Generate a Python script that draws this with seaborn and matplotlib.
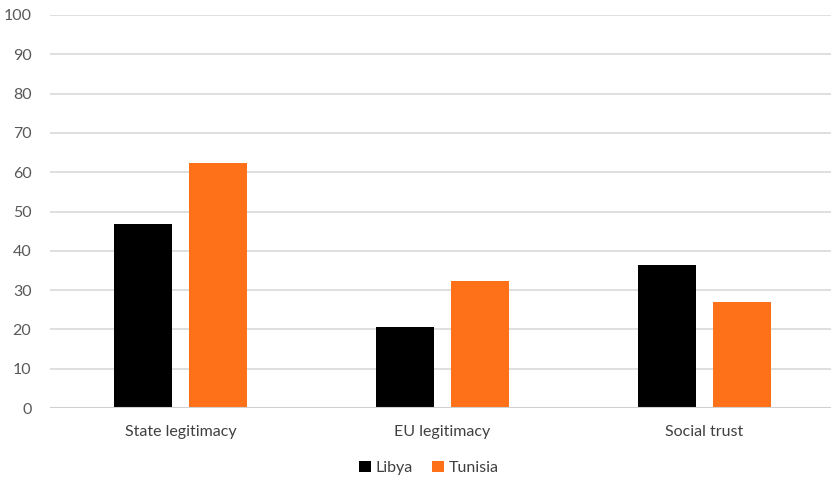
import matplotlib
matplotlib.use("Agg")
import matplotlib.pyplot as plt
import seaborn as sns
import pandas as pd
from matplotlib.patches import Patch

categories = ["State legitimacy", "EU legitimacy", "Social trust"]
libya = [46.9, 20.7, 36.3]
tunisia = [62.3, 32.3, 27.0]
series_names = ["Libya", "Tunisia"]
yticks = [0, 10, 20, 30, 40, 50, 60, 70, 80, 90, 100]

df = pd.DataFrame({
    "category": categories * 2,
    "value": libya + tunisia,
    "country": [series_names[0]] * 3 + [series_names[1]] * 3,
})

sns.set_theme(style="white")
plt.rcParams["font.family"] = ["Lato", "DejaVu Sans"]

colors = {"Libya": "#000000", "Tunisia": "#FF7119"}

fig = plt.figure(figsize=(8.31, 4.78), dpi=100)
ax = fig.add_axes([49.5 / 831, 70 / 478, 786 / 831, 393 / 478])

sns.barplot(data=df, x="category", y="value", hue="country", order=categories,
            hue_order=series_names, palette=colors, width=0.575, gap=0.227,
            ax=ax, legend=False, saturation=1, linewidth=0)

ax.set_ylim(0, 100)
ax.set_xlim(-0.5, 2.5)
ax.set_yticks(yticks)
ax.yaxis.grid(True, color="#D9D9D9", linewidth=1.2)
ax.set_axisbelow(True)
ax.axhline(0, color="#D0D0D0", linewidth=1.5, zorder=1)
for s in ax.spines.values():
    s.set_visible(False)
ax.set_xlabel("")
ax.set_ylabel("")
ax.tick_params(axis="y", length=0, pad=13, labelsize=11.5, labelcolor="#595959")
ax.tick_params(axis="x", length=0, pad=12, labelsize=11.5, labelcolor="#404040")

handles = [Patch(facecolor=colors[n], edgecolor="none", label=n) for n in series_names]
fig.legend(handles=handles, loc="center", bbox_to_anchor=(429 / 831, 1 - 468 / 478),
           ncol=2, frameon=False, fontsize=11.5, handlelength=0.75, handleheight=0.75,
           handletextpad=0.3, columnspacing=1.2, labelcolor="#404040")

fig.savefig("out.png", dpi=100)
